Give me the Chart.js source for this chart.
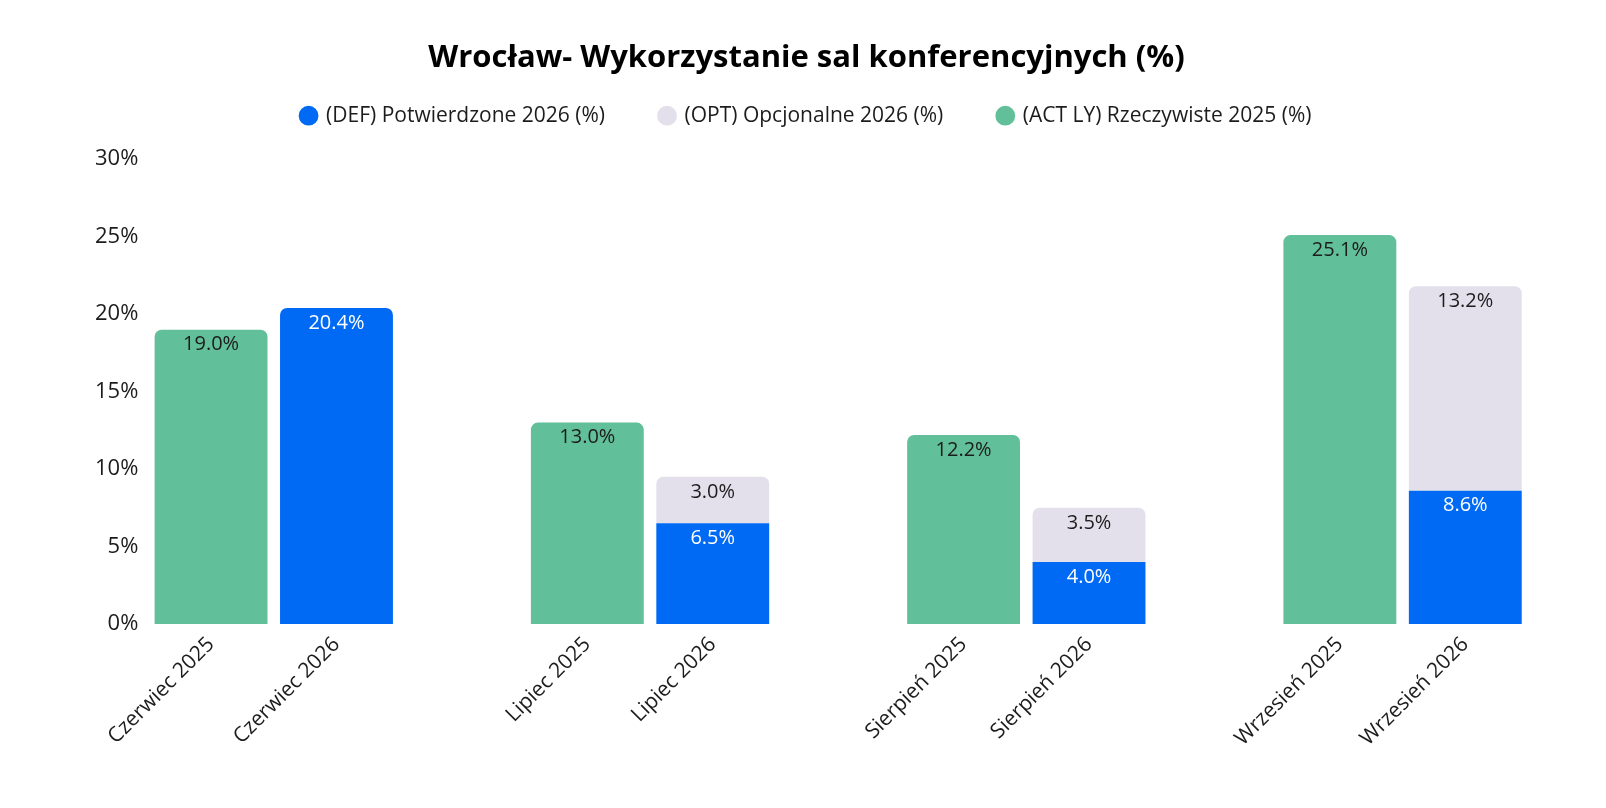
<!DOCTYPE html>
<html>
<head>
<meta charset="utf-8">
<script src="https://cdn.jsdelivr.net/npm/chart.js@4.4.1/dist/chart.umd.min.js"></script>
<style>
  html, body { margin: 0; padding: 0; background: #ffffff; }
  #wrap { width: 1606px; height: 808px; position: relative; }
</style>
</head>
<body>
<div id="wrap"><canvas id="c"></canvas></div>
<script>
const chartTitle = 'Wrocław- Wykorzystanie sal konferencyjnych (%)';
const categories = ['Czerwiec 2025', 'Czerwiec 2026', '', 'Lipiec 2025', 'Lipiec 2026', '', 'Sierpień 2025', 'Sierpień 2026', '', 'Wrzesień 2025', 'Wrzesień 2026'];
const seriesNames = ['(DEF) Potwierdzone 2026 (%)', '(OPT) Opcjonalne 2026 (%)', '(ACT LY) Rzeczywiste 2025 (%)'];
const defValues = [null, 20.4, null, null, 6.5, null, null, 4.0, null, null, 8.6];
const optValues = [null, null, null, null, 3.0, null, null, 3.5, null, null, 13.2];
const actValues = [19.0, null, null, 13.0, null, null, 12.2, null, null, 25.1, null];
const yTicks = [0, 5, 10, 15, 20, 25, 30];

const FONT = '"Open Sans", Lato, sans-serif';
const labelColors = ['#ffffff', '#1c1c1c', '#1c1c1c'];

const valueLabels = {
  id: 'valueLabels',
  afterDatasetsDraw(chart) {
    const ctx = chart.ctx;
    ctx.save();
    ctx.font = '20px ' + FONT;
    ctx.textAlign = 'center';
    ctx.textBaseline = 'middle';
    chart.data.datasets.forEach((ds, di) => {
      const meta = chart.getDatasetMeta(di);
      meta.data.forEach((el, i) => {
        const v = ds.data[i];
        if (v === null || v === undefined) return;
        ctx.fillStyle = labelColors[di];
        ctx.fillText(v.toFixed(1) + '%', el.x, el.y + 15);
      });
    });
    ctx.restore();
  }
};

// add extra space below the legend
const legendSpace = {
  id: 'legendSpace',
  afterInit(chart) {
    const lg = chart.legend;
    if (!lg) return;
    const orig = lg.fit;
    lg.fit = function () { orig.call(this); this.height += 23; };
  }
};

const topRadius = { topLeft: 7, topRight: 7, bottomLeft: 0, bottomRight: 0 };

new Chart(document.getElementById('c'), {
  type: 'bar',
  data: {
    labels: categories,
    datasets: [
      {
        label: seriesNames[0], data: defValues, backgroundColor: '#006af5',
        borderRadius: (c) => (optValues[c.dataIndex] === null ? topRadius : 0),
        borderSkipped: false
      },
      {
        label: seriesNames[1], data: optValues, backgroundColor: '#e3e0ec',
        borderRadius: topRadius, borderSkipped: false
      },
      {
        label: seriesNames[2], data: actValues, backgroundColor: '#61bf99',
        borderRadius: topRadius, borderSkipped: false
      }
    ]
  },
  options: {
    responsive: true,
    maintainAspectRatio: false,
    animation: false,
    datasets: { bar: { barPercentage: 0.9, categoryPercentage: 1.0 } },
    layout: { padding: { left: 85, right: 78, top: 25, bottom: 49 } },
    plugins: {
      title: {
        display: true, text: chartTitle, color: '#000000',
        font: { family: FONT, size: 31, weight: 'bold' },
        padding: { top: 15, bottom: -27 }
      },
      legend: {
        display: true, position: 'top',
        labels: {
          usePointStyle: true, pointStyle: 'circle', boxWidth: 14, boxHeight: 14,
          color: '#1c1c1c', font: { family: FONT, size: 21 }, padding: 55
        }
      },
      tooltip: { enabled: false }
    },
    scales: {
      x: {
        stacked: true,
        grid: { display: false, drawTicks: false },
        border: { display: false },
        ticks: {
          color: '#1c1c1c', font: { family: FONT, size: 21 },
          minRotation: 45, maxRotation: 45, autoSkip: false, padding: 8
        }
      },
      y: {
        stacked: true, min: 0, max: 30,
        afterBuildTicks: (axis) => { axis.ticks = yTicks.map(v => ({ value: v })); },
        grid: { display: false, drawTicks: false },
        border: { display: false },
        ticks: {
          color: '#1c1c1c', font: { family: FONT, size: 22 }, padding: 10,
          callback: (v) => v + '%'
        }
      }
    }
  },
  plugins: [valueLabels, legendSpace]
});
</script>
</body>
</html>
